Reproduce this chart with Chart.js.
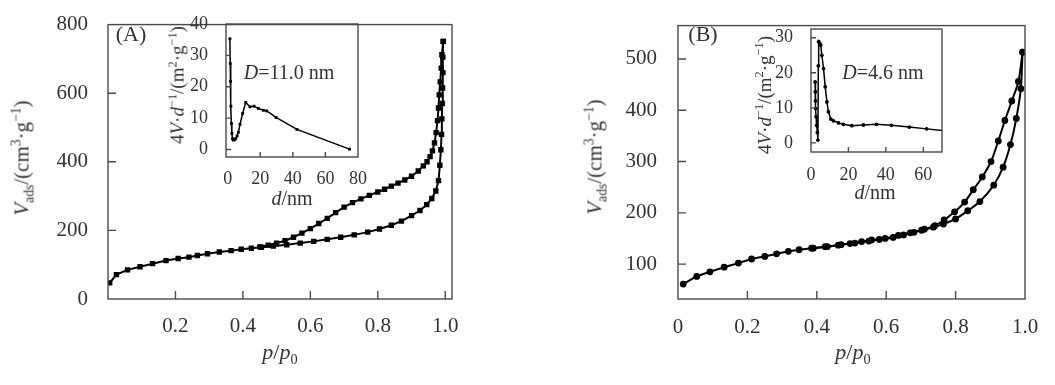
<!DOCTYPE html>
<html>
<head>
<meta charset="utf-8">
<script src="https://cdn.jsdelivr.net/npm/chart.js@4.4.0/dist/chart.umd.min.js"></script>
<style>
  html, body { margin: 0; padding: 0; background: #fff; }
  #wrap { position: relative; width: 1055px; height: 385px; overflow: hidden;
          font-family: 'Liberation Serif', 'Times New Roman', serif; color: #333; }
  .box { position: absolute; }
  .txt { position: absolute; white-space: nowrap; line-height: 1; transform: translate(-50%, -50%); }
  .rot { transform: translate(-50%, -50%) rotate(-90deg); }
  sub, sup { font-size: 65%; line-height: 0; }
</style>
</head>
<body>
<div id="wrap">
  <div class="box" style="left:0;top:0;width:470px;height:385px"><canvas id="mainA"></canvas></div>
  <div class="box" style="left:530px;top:0;width:525px;height:385px"><canvas id="mainB"></canvas></div>
  <div class="box" style="left:150px;top:0;width:220px;height:185px"><canvas id="insetA"></canvas></div>
  <div class="box" style="left:700px;top:0;width:260px;height:185px"><canvas id="insetB"></canvas></div>

  <div class="txt rot" style="left:22px;top:158px;font-size:21px"><i>V</i><sub>ads</sub>/(cm<sup>3</sup>·g<sup>−1</sup>)</div>
  <div class="txt" style="left:280px;top:352px;font-size:22px"><i>p</i>/<i>p</i><sub>0</sub></div>
  <div class="txt" style="left:131px;top:34px;font-size:22px">(A)</div>
  <div class="txt" style="left:289px;top:72px;font-size:20px"><i>D</i>=11.0 nm</div>
  <div class="txt rot" style="left:177px;top:85px;font-size:19px">4<i>V</i>·<i>d</i><sup>−1</sup>/(m<sup>2</sup>·g<sup>−1</sup>)</div>
  <div class="txt" style="left:292px;top:198px;font-size:20px"><i>d</i>/nm</div>

  <div class="txt rot" style="left:595px;top:157px;font-size:21px"><i>V</i><sub>ads</sub>/(cm<sup>3</sup>·g<sup>−1</sup>)</div>
  <div class="txt" style="left:853px;top:352px;font-size:22px"><i>p</i>/<i>p</i><sub>0</sub></div>
  <div class="txt" style="left:703px;top:34px;font-size:22px">(B)</div>
  <div class="txt" style="left:883px;top:72px;font-size:20px"><i>D</i>=4.6 nm</div>
  <div class="txt rot" style="left:764px;top:95px;font-size:19px">4<i>V</i>·<i>d</i><sup>−1</sup>/(m<sup>2</sup>·g<sup>−1</sup>)</div>
  <div class="txt" style="left:875px;top:192px;font-size:20px"><i>d</i>/nm</div>
</div>

<script>
"use strict";
/* N2 isotherms (A, B) with pore-size insets. */

// ---- panel A: isotherm ----
const aAdsP = [0.005,0.025,0.058,0.095,0.132,0.172,0.208,0.24,0.265,0.295,0.33,0.365,0.395,0.425,0.455,0.49,0.53,0.57,0.61,0.65,0.69,0.73,0.77,0.805,0.84,0.87,0.9,0.925,0.945,0.96,0.972,0.98,0.984,0.987,0.989,0.99,0.991,0.992,0.993,0.993,0.994];
const aAdsV = [47,71,85,94,103,112,118,122,127,132,137,141,145,148,151,154,158,163,168,174,180,187,195,204,215,227,243,258,275,293,315,345,390,435,480,525,570,615,660,705,751];
const aDesP = [0.994,0.99,0.988,0.985,0.982,0.98,0.977,0.973,0.968,0.962,0.955,0.946,0.935,0.92,0.9,0.88,0.86,0.84,0.82,0.8,0.775,0.75,0.725,0.7,0.675,0.65,0.625,0.6,0.575,0.55,0.525,0.5,0.475,0.45];
const aDesV = [751,712,673,633,595,557,520,485,455,432,415,400,388,373,358,347,338,329,320,312,302,292,281,268,252,235,220,205,192,180,170,163,157,152];
const aXTicks = [0.2, 0.4, 0.6, 0.8, 1.0];
const aYTicks = [0, 200, 400, 600, 800];

// ---- panel A: inset (pore size) ----
const iaD = [1.4,1.6,1.8,2.0,2.3,2.6,3.0,3.5,4.2,5.0,5.8,6.6,7.6,9.2,11.1,13.7,16.2,18.8,21.9,24.0,29.7,42.5,74.8];
const iaY = [35.3,27.4,21.7,13.8,8.3,5.1,3.4,3.0,3.1,3.5,4.3,5.5,8.0,11.5,15.0,13.6,13.8,13.1,12.5,12.3,10.2,6.4,0.1];
const iaXTicks = [0, 20, 40, 60, 80];
const iaYTicks = [0, 10, 20, 30, 40];

// ---- panel B: isotherm ----
const bAdsP = [0.015,0.054,0.092,0.133,0.174,0.212,0.25,0.284,0.318,0.349,0.385,0.424,0.462,0.496,0.529,0.558,0.597,0.635,0.669,0.702,0.736,0.765,0.8,0.835,0.87,0.91,0.937,0.958,0.975,0.988,0.993];
const bAdsV = [61,76,85,94,102,110,115,120,125,128,131,134,137,140,144,147,150,156,161,166,172,178,188,204,222,254,289,333,384,442,513];
const bDesP = [0.993,0.981,0.962,0.942,0.923,0.902,0.877,0.851,0.826,0.797,0.767,0.74,0.71,0.68,0.65,0.62,0.58,0.55,0.51,0.47,0.43,0.39];
const bDesV = [513,456,418,380,340,300,270,245,221,202,186,175,168,162,157,152,148,145,141,138,134,131];
const bXTicks = [0, 0.2, 0.4, 0.6, 0.8, 1.0];
const bYTicks = [100, 200, 300, 400, 500];

// ---- panel B: inset ----
const ibD = [2.2,2.3,2.4,2.5,2.7,3.0,3.4,3.7,3.9,4.1,4.6,5.2,5.8,6.7,7.6,8.5,9.3,10.6,12.0,14.7,17.3,21.8,28.0,35.0,43.0,52.5,61.8,70];
const ibY = [17.4,14.6,12.0,9.8,7.5,5.0,3.0,0.8,22.0,28.9,28.4,27.9,25.0,21.2,16.0,11.7,8.9,6.8,6.3,5.7,5.3,4.9,5.1,5.3,5.0,4.5,4.0,3.5];
const ibXTicks = [0, 20, 40, 60];
const ibYTicks = [0, 10, 20, 30];

Chart.defaults.font.family = "'Liberation Serif', 'Times New Roman', serif";
Chart.defaults.color = "#333";

const pts = (xs, ys) => xs.map((x, i) => ({ x, y: ys[i] }));
const fmt1 = (v) => (v === 0 ? "0" : v.toFixed(1));
const fmt0 = (v) => String(v);

/* box frame + inward tick marks, placed with the chart's own scales */
const frameTicks = {
  id: "frameTicks",
  afterDraw(chart, args, opts) {
    const { ctx, chartArea: a, scales: { x, y } } = chart;
    const len = opts.len || 7;
    ctx.save();
    ctx.strokeStyle = "#4a4a4a";
    ctx.lineWidth = 1.4;
    ctx.strokeRect(a.left, a.top, a.right - a.left, a.bottom - a.top);
    ctx.beginPath();
    x.ticks.forEach((t) => {
      const px = x.getPixelForValue(t.value);
      if (px > a.left + 3 && px < a.right - 3) { ctx.moveTo(px, a.bottom); ctx.lineTo(px, a.bottom - len); }
    });
    y.ticks.forEach((t) => {
      const py = y.getPixelForValue(t.value);
      if (py > a.top + 3 && py < a.bottom - 3) { ctx.moveTo(a.left, py); ctx.lineTo(a.left + len, py); }
    });
    ctx.stroke();
    ctx.restore();
  },
};

function panel(id, p) {
  return new Chart(document.getElementById(id), {
    type: "scatter",
    data: { datasets: p.datasets },
    options: {
      responsive: true, maintainAspectRatio: false, animation: false,
      layout: { padding: { left: 0, top: p.top, right: p.right, bottom: 0 } },
      plugins: { legend: { display: false }, tooltip: { enabled: false }, frameTicks: { len: p.tickLen } },
      scales: {
        x: {
          type: "linear", min: p.xMin, max: p.xMax,
          afterFit: (s) => { s.height = p.xH; },
          afterBuildTicks: (s) => { s.ticks = p.xTicks.map((v) => ({ value: v })); },
          grid: { display: false }, border: { display: false },
          ticks: { padding: p.xPad, autoSkip: false, maxRotation: 0, font: { size: p.font }, callback: p.xFmt },
        },
        y: {
          type: "linear", min: p.yMin, max: p.yMax,
          afterFit: (s) => { s.width = p.yW; },
          afterBuildTicks: (s) => { s.ticks = p.yTicks.map((v) => ({ value: v })); },
          grid: { display: false }, border: { display: false },
          ticks: { padding: p.yPad, autoSkip: false, font: { size: p.font }, callback: fmt0 },
        },
      },
    },
    plugins: [frameTicks],
  });
}

const line = (data, style, r, w, tension) => ({
  data, showLine: true, borderColor: "#000", borderWidth: w, tension,
  pointStyle: style, pointRadius: r, pointBackgroundColor: "#000", pointBorderColor: "#000", pointBorderWidth: 0,
});

panel("mainA", {
  top: 18, right: 18, xH: 86, yW: 108, xPad: 7, yPad: 12, font: 21, tickLen: 8,
  xMin: 0, xMax: 1.02, yMin: 0, yMax: 800, xTicks: aXTicks, yTicks: aYTicks, xFmt: fmt1,
  datasets: [
    line(pts(aAdsP, aAdsV), "rect", 3.8, 2, 0),
    line(pts(aDesP, aDesV), "rect", 3.8, 2, 0),
  ],
});

panel("mainB", {
  top: 18, right: 30, xH: 86, yW: 148, xPad: 8, yPad: 13, font: 21, tickLen: 8,
  xMin: 0, xMax: 1.0, yMin: 32, yMax: 565, xTicks: bXTicks, yTicks: bYTicks, xFmt: fmt1,
  datasets: [
    line(pts(bAdsP, bAdsV), "circle", 3.4, 2, 0.3),
    line(pts(bDesP, bDesV), "circle", 3.4, 2, 0.3),
  ],
});

panel("insetA", {
  top: 24, right: 12, xH: 28, yW: 76, xPad: 3, yPad: 10, font: 18, tickLen: 5,
  xMin: -1, xMax: 80, yMin: -2.4, yMax: 40, xTicks: iaXTicks, yTicks: iaYTicks, xFmt: fmt0,
  datasets: [line(pts(iaD, iaY), "rect", 2, 1.5, 0)],
});

const ibLine = line(pts(ibD, ibY), "circle", 1.9, 1.5, 0);
ibLine.pointRadius = (c) => (c.dataIndex === ibD.length - 1 ? 0 : 1.9);
panel("insetB", {
  top: 29, right: 18, xH: 33, yW: 111, xPad: 4, yPad: 10, font: 18, tickLen: 5,
  xMin: 0, xMax: 70, yMin: -2.6, yMax: 32.5, xTicks: ibXTicks, yTicks: ibYTicks, xFmt: fmt0,
  datasets: [ibLine],
});
</script>
</body>
</html>
